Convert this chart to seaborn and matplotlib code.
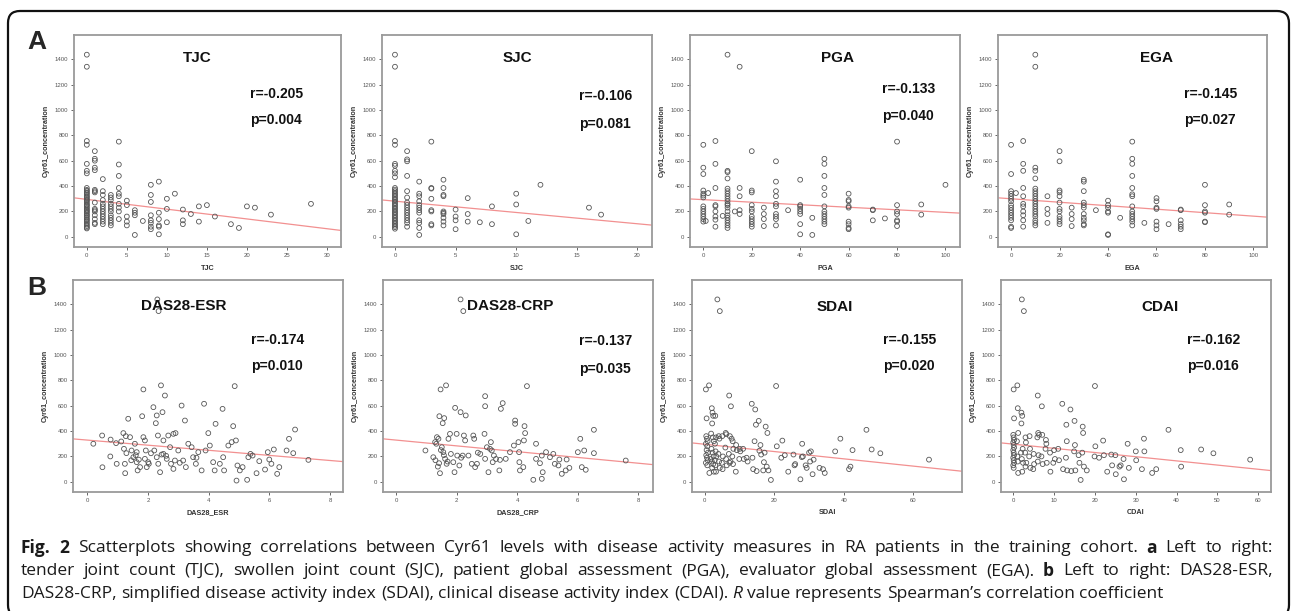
import numpy as np
import pandas as pd
import matplotlib
matplotlib.use("Agg")
import matplotlib.pyplot as plt
import seaborn as sns
from matplotlib.patches import FancyBboxPatch
from matplotlib.transforms import IdentityTransform

# ---------------- data ----------------
y_label = "Cyr61_concentration"

# Panel A: discrete x -> list of Cyr61 values
tjc_cols = {
    0: [1435, 1340, 755, 725, 575, 520, 500, 385, 370, 362, 350, 342, 330, 318, 310, 298, 290, 280,
        268, 255, 248, 236, 225, 214, 205, 196, 185, 172, 165, 152, 140, 131, 120, 108, 96, 85, 74, 66],
    1: [675, 615, 600, 545, 525, 370, 360, 350, 270, 220, 210, 200, 170, 140, 110, 100],
    2: [455, 360, 330, 290, 260, 240, 220, 200, 180, 160, 140, 120, 100],
    3: [330, 310, 290, 260, 240, 220, 200, 170, 150, 130, 110, 90],
    4: [750, 570, 480, 385, 340, 320, 260, 230, 200, 140],
    5: [285, 250, 160, 120, 90],
    6: [210, 190, 170, 15],
    7: [125],
    8: [410, 330, 275, 170, 130, 110, 80, 60],
    9: [435, 190, 140, 90, 80, 20],
    10: [300, 220, 115],
    11: [340],
    12: [215, 130, 100],
    13: [180],
    14: [240, 120],
    15: [250],
    16: [160],
    18: [100],
    19: [70],
    20: [240],
    21: [230],
    23: [175],
    28: [260],
}
sjc_cols = {
    0: [1435, 1340, 755, 725, 575, 560, 520, 500, 470, 385, 372, 360, 348, 336, 325, 312, 300, 290, 278,
        266, 254, 243, 230, 220, 208, 196, 185, 172, 160, 148, 136, 124, 112, 100, 88, 76, 64],
    1: [675, 610, 595, 480, 360, 310, 270, 250, 230, 210, 190, 170, 150, 130, 110, 80],
    2: [435, 340, 320, 280, 250, 230, 210, 190, 130, 110, 70, 15],
    3: [750, 385, 380, 300, 210, 200, 100, 90],
    4: [450, 385, 330, 320, 200, 190, 180, 150, 120, 90],
    5: [215, 160, 130, 60],
    6: [305, 180, 120],
    7: [115],
    8: [240, 100],
    10: [340, 255, 20],
    11: [125],
    12: [410],
    16: [230],
    17: [175],
}
pga_cols = {
    0: [725, 545, 495, 365, 340, 325, 310, 240, 220, 200, 180, 160, 140, 120],
    1: [125],
    2: [345],
    5: [755, 575, 385, 250, 240, 200, 160, 135, 80],
    8: [165],
    10: [1435, 520, 510, 460, 380, 360, 340, 320, 300, 280, 260, 250, 230, 200, 170, 150, 130, 110, 90, 70],
    13: [200],
    15: [1340, 385, 320, 210, 180],
    20: [675, 365, 350, 250, 220, 200, 160, 140, 120, 100, 80],
    25: [230, 180, 140, 85],
    30: [595, 435, 360, 320, 260, 240, 180, 160, 140, 90],
    35: [210],
    40: [450, 250, 240, 220, 200, 180, 100, 20],
    45: [150, 15],
    50: [615, 575, 480, 385, 330, 240, 200, 180, 160, 140, 120, 100],
    60: [340, 290, 280, 240, 230, 120, 100, 70, 60],
    70: [215, 210, 130],
    75: [145],
    80: [750, 250, 200, 180, 130, 120, 85],
    90: [255, 175],
    100: [410],
}
ega_cols = {
    0: [725, 495, 360, 340, 320, 300, 280, 250, 230, 210, 190, 170, 150, 130, 80, 70],
    2: [345],
    5: [755, 575, 520, 385, 320, 260, 240, 200, 170, 130, 80],
    10: [1435, 1340, 545, 520, 460, 380, 360, 340, 320, 300, 280, 260, 240, 220, 200, 180, 160, 130, 110, 90],
    15: [320, 220, 180, 110],
    20: [675, 595, 365, 350, 320, 270, 220, 200, 160, 140, 120, 100],
    25: [230, 180, 140, 85],
    30: [450, 435, 360, 270, 250, 230, 180, 150, 130, 100, 90],
    35: [210],
    40: [285, 250, 230, 200, 190, 20, 15],
    45: [150],
    50: [750, 615, 575, 480, 385, 335, 320, 240, 200, 180, 160, 140, 120, 90],
    55: [110],
    60: [305, 280, 230, 220, 120, 90, 60],
    65: [100],
    70: [215, 210, 130, 100, 80, 60],
    80: [410, 250, 200, 190, 120, 115],
    90: [255, 175],
}

# Panel B: continuous x
das_esr_x = [2.31, 2.35, 0.2, 0.5, 0.49, 0.77, 0.76, 0.97, 0.95, 1.12, 1.19, 1.27, 1.35, 1.21, 1.29, 1.41, 1.24,
             1.25, 1.46, 1.52, 1.63, 1.57, 1.63, 1.66, 1.74, 1.81, 1.85, 1.85, 1.9, 1.93, 1.9, 1.96, 2.01, 2.03,
             2.18, 2.29, 2.26, 2.33, 2.21, 2.29, 2.34, 2.4, 2.43, 2.48, 2.56, 2.51, 2.51, 2.62, 2.67, 2.73, 2.76,
             2.84, 2.91, 2.89, 2.84, 3.0, 3.11, 3.22, 3.16, 3.25, 3.33, 3.44, 3.49, 3.58, 3.66, 3.77, 3.85, 3.9,
             3.99, 4.04, 4.15, 4.23, 4.2, 4.37, 4.46, 4.48, 4.51, 4.65, 4.76, 4.81, 4.86, 4.9, 4.95, 4.92, 5.03,
             5.12, 5.27, 5.31, 5.38, 5.45, 5.58, 5.67, 5.86, 5.95, 6.0, 6.07, 6.15, 6.26, 6.33, 6.57, 6.65, 6.79,
             6.85, 7.29, 1.6, 1.7, 2.1, 2.6, 3.05, 3.6, 1.45, 2.45]
das_esr_y = [1437, 1345, 300, 115, 365, 333, 200, 142, 305, 318, 384, 360, 497, 260, 226, 352, 142,
             68, 247, 194, 155, 300, 234, 90, 116, 517, 728, 352, 326, 247, 181, 116, 155, 142,
             588, 523, 462, 365, 247, 194, 142, 76, 760, 549, 680, 326, 220, 181, 365, 273, 142,
             378, 384, 168, 102, 247, 601, 483, 168, 116, 300, 273, 194, 142, 234, 90, 615, 247,
             384, 286, 155, 457, 90, 142, 575, 194, 90, 286, 313, 439, 754, 326, 129, 10, 90,
             116, 16, 194, 220, 207, 68, 163, 97, 234, 176, 142, 255, 63, 116, 247, 339, 226,
             412, 173, 210, 175, 225, 205, 150, 190, 170, 215]

das_crp_x = [2.13, 2.22, 0.97, 1.23, 1.29, 1.35, 1.4, 1.42, 1.45, 1.47, 1.65, 1.43, 1.59, 1.54, 1.51, 1.56, 1.62,
             1.67, 1.73, 1.78, 1.81, 1.89, 1.93, 1.95, 2.0, 2.02, 2.09, 2.13, 2.3, 2.24, 2.28, 2.2, 2.39, 2.5,
             2.55, 2.58, 2.61, 2.67, 2.78, 2.92, 2.94, 2.94, 2.94, 3.0, 3.05, 3.13, 3.16, 3.19, 3.23, 3.41, 3.43,
             3.46, 3.52, 3.62, 3.76, 3.89, 3.93, 3.93, 4.04, 4.06, 4.07, 4.09, 4.2, 4.22, 4.24, 4.26, 4.32, 4.53,
             4.62, 4.62, 4.75, 4.81, 4.81, 4.84, 4.95, 5.08, 5.19, 5.24, 5.36, 5.39, 5.47, 5.6, 5.63, 5.72, 6.0,
             6.08, 6.13, 6.21, 6.26, 6.53, 6.53, 7.58, 1.3, 1.38, 1.48, 1.58, 1.7, 2.15, 2.7, 3.1, 3.3, 1.33]
das_crp_y = [1437, 1345, 247, 194, 313, 352, 339, 147, 68, 728, 760, 517, 502, 462, 273, 234, 181,
             142, 339, 378, 220, 155, 76, 583, 378, 207, 129, 549, 523, 365, 326, 207, 207, 142,
             365, 339, 116, 142, 220, 378, 675, 596, 181, 273, 76, 313, 247, 155, 207, 90, 173,
             575, 620, 181, 234, 286, 457, 483, 313, 234, 155, 90, 116, 326, 439, 384, 754, 16,
             300, 181, 147, 24, 207, 76, 234, 194, 220, 142, 129, 176, 63, 90, 176, 110, 234,
             339, 116, 247, 95, 410, 226, 168, 170, 120, 250, 210, 160, 190, 230, 260, 180, 300]

sdai_x = [3.6, 4.3, 0.3, 0.5, 0.4, 0.6, 0.8, 0.3, 0.7, 0.5, 0.9, 0.4, 0.6, 0.8, 0.3, 0.7,
          1.2, 1.3, 2.0, 2.2, 2.4, 2.1, 1.8, 2.3, 2.6, 1.9, 2.2, 2.5, 1.7, 2.0, 2.4, 2.1, 2.6,
          3.0, 3.2, 2.9, 3.1, 3.3, 2.8, 3.0, 3.2, 4.0, 4.2, 3.9, 4.1, 4.3, 5.0, 5.2, 4.9, 5.1,
          6.0, 6.2, 5.9, 6.1, 6.3, 7.0, 7.2, 6.9, 7.1, 7.5, 7.7, 7.4, 8.0, 8.2, 7.9, 8.1,
          9.0, 9.2, 8.9, 10.0, 10.2, 9.9, 11.0, 11.2, 12.0, 12.3, 13.5, 13.7, 13.9, 14.5, 14.7,
          14.3, 14.9, 15.5, 15.7, 16.0, 16.2, 17.0, 17.2, 16.8, 17.5, 17.8, 18.0, 18.3, 19.0,
          20.5, 20.7, 22.0, 22.3, 23.0, 24.0, 25.5, 25.8, 26.0, 27.5, 28.0, 28.2, 27.9, 29.0,
          29.3, 30.0, 30.3, 30.5, 31.0, 31.3, 33.0, 34.0, 34.5, 37.5, 39.0, 41.5, 41.9, 42.5,
          46.5, 48.0, 50.5, 64.5]
sdai_y = [1437, 1345, 728, 500, 360, 340, 320, 300, 280, 250, 230, 210, 190, 170, 150, 130,
          760, 70, 580, 545, 520, 460, 380, 350, 320, 260, 230, 200, 180, 160, 140, 110, 80,
          520, 350, 300, 240, 200, 170, 130, 80, 360, 340, 220, 160, 110, 360, 200, 150, 100,
          385, 375, 270, 180, 130, 680, 360, 220, 150, 595, 340, 160, 320, 260, 200, 140,
          290, 250, 80, 260, 240, 180, 260, 180, 190, 160, 615, 190, 100, 570, 450,
          320, 85, 480, 245, 290, 215, 155, 230, 90, 435, 120, 385, 90, 15,
          755, 280, 190, 325, 210, 80, 215, 130, 140, 20, 300, 200, 195, 130,
          110, 230, 160, 240, 60, 175, 110, 100, 70, 240, 340, 100, 120, 250,
          410, 255, 225, 175]

cdai_x = [2.1, 2.6, 0.1, 0.2, 0.0, 0.1, 0.2, 0.0, 0.1, 0.2, 0.0, 0.1, 0.2, 0.0, 0.1, 0.2, 0.0, 0.1,
          1.0, 1.1, 1.2, 0.9, 1.0, 1.1, 1.2, 2.0, 2.2, 2.0, 2.3, 1.9, 2.1, 2.4, 2.2,
          3.0, 3.1, 2.9, 3.2, 3.0, 4.0, 4.1, 3.9, 4.2, 5.0, 5.1, 4.9,
          6.0, 6.1, 6.3, 5.9, 6.2, 6.0, 7.0, 7.1, 6.9, 7.2, 8.0, 8.1, 7.9, 8.2, 9.0, 9.1,
          10.0, 10.2, 9.8, 11.0, 11.2, 12.0, 12.2, 13.0, 13.1, 12.9, 13.2, 14.0, 14.2,
          15.0, 15.1, 14.9, 15.2, 16.0, 16.2, 16.5, 17.0, 17.1, 16.9, 17.3, 18.0,
          20.0, 20.1, 19.9, 21.0, 22.0, 22.2, 23.0, 24.0, 24.2, 25.0, 25.1, 26.0, 26.3,
          27.0, 27.1, 28.0, 28.3, 30.0, 30.1, 31.5, 32.0, 32.1, 34.0, 35.0, 38.0, 41.0, 41.1,
          46.0, 49.0, 58.0]
cdai_y = [1437, 1345, 728, 500, 370, 350, 330, 310, 290, 270, 250, 230, 210, 190, 170, 150, 130, 110,
          760, 580, 385, 320, 200, 160, 70, 545, 520, 460, 260, 230, 180, 150, 80,
          350, 310, 230, 150, 120, 360, 260, 200, 110, 220, 140, 100,
          680, 385, 370, 350, 210, 160, 595, 370, 200, 140, 330, 300, 260, 150, 230, 80,
          250, 180, 150, 260, 170, 615, 100, 450, 320, 190, 90, 570, 85,
          480, 290, 240, 90, 210, 150, 15, 435, 385, 230, 120, 90,
          755, 280, 200, 190, 325, 210, 80, 215, 130, 210, 60, 120, 130,
          180, 20, 300, 110, 240, 170, 100, 340, 240, 70, 100, 410, 250, 120,
          255, 225, 175]

# Spearman statistics shown in the panels
names = ["TJC", "SJC", "PGA", "EGA", "DAS28-ESR", "DAS28-CRP", "SDAI", "CDAI"]
x_labels = ["TJC", "SJC", "PGA", "EGA", "DAS28_ESR", "DAS28_CRP", "SDAI", "CDAI"]
r_values = ["-0.205", "-0.106", "-0.133", "-0.145", "-0.174", "-0.137", "-0.155", "-0.162"]
p_values = ["0.004", "0.081", "0.040", "0.027", "0.010", "0.035", "0.020", "0.016"]
# fit line (intercept, slope)
fit_intercepts = [295, 281, 293, 300, 329, 329, 296, 297]
fit_slopes = [-7.7, -8.9, -1.0, -1.37, -20.1, -22.8, -2.87, -3.3]
x_ticks = [[0, 5, 10, 15, 20, 25, 30], [0, 5, 10, 15, 20], [0, 20, 40, 60, 80, 100],
           [0, 20, 40, 60, 80, 100], [0, 2, 4, 6, 8], [0, 2, 4, 6, 8], [0, 20, 40, 60],
           [0, 10, 20, 30, 40, 50, 60]]
y_ticks = [0, 200, 400, 600, 800, 1000, 1200, 1400]
# caption: (text, weight, style) runs per line
caption_lines = [
    [("Fig. 2", "bold", "normal"),
     ("Scatterplots showing correlations between Cyr61 levels with disease activity measures in RA patients in the training cohort.", "normal", "normal"),
     ("a", "bold", "normal"), ("Left to right:", "normal", "normal")],
    [("tender joint count (TJC), swollen joint count (SJC), patient global assessment (PGA), evaluator global assessment (EGA).", "normal", "normal"),
     ("b", "bold", "normal"), ("Left to right: DAS28-ESR,", "normal", "normal")],
    [("DAS28-CRP, simplified disease activity index (SDAI), clinical disease activity index (CDAI).", "normal", "normal"),
     ("R", "normal", "italic"), ("value represents Spearman\u2019s correlation coefficient", "normal", "normal")],
]


def cols_to_df(cols):
    xs, ys = [], []
    for k, vals in cols.items():
        xs += [k] * len(vals)
        ys += vals
    return pd.DataFrame({"x": xs, "y": ys})


frames = [cols_to_df(tjc_cols), cols_to_df(sjc_cols), cols_to_df(pga_cols), cols_to_df(ega_cols),
          pd.DataFrame({"x": das_esr_x, "y": das_esr_y}), pd.DataFrame({"x": das_crp_x, "y": das_crp_y}),
          pd.DataFrame({"x": sdai_x, "y": sdai_y}), pd.DataFrame({"x": cdai_x, "y": cdai_y})]

# ---------------- layout ----------------
sns.set_theme(style="white")
plt.rcParams['font.family'] = ['Liberation Sans', 'DejaVu Sans']
W, H = 1292, 611
fig = plt.figure(figsize=(W / 100, H / 100), dpi=100)
fig.patch.set_facecolor("white")

# pixel boxes (left, top, right, bottom)
boxes = [(74, 35, 341, 247), (382, 35, 652, 247), (690, 35, 960, 247), (998, 35, 1267, 247),
         (73, 280, 343, 492), (383, 280, 653, 492), (692, 280, 962, 492), (1001, 280, 1271, 492)]
xlims = [(-1.6, 31.75), (-1.07, 21.2), (-5.5, 106), (-5.4, 105.6),
         (-0.47, 8.43), (-0.43, 8.48), (-3.7, 74), (-3.0, 63.1)]
title_pos = [(0.46, 0.89), (0.50, 0.89), (0.545, 0.89), (0.59, 0.89),
             (0.41, 0.875), (0.47, 0.877), (0.53, 0.873), (0.59, 0.873)]
r_pos = [(0.66, 0.72, 0.60), (0.73, 0.71, 0.58), (0.71, 0.745, 0.62), (0.69, 0.72, 0.60),
         (0.66, 0.717, 0.596), (0.726, 0.71, 0.58), (0.706, 0.717, 0.596), (0.688, 0.717, 0.596)]

for i, (l, t, r, b) in enumerate(boxes):
    ax = fig.add_axes([l / W, (H - b) / H, (r - l) / W, (b - t) / H])
    df = frames[i]
    sns.scatterplot(data=df, x="x", y="y", ax=ax, marker="o", s=12, facecolor="none",
                    edgecolor="#555555", linewidth=0.6, legend=False, zorder=3)
    ax.axline((0, fit_intercepts[i]), slope=fit_slopes[i], color="#f29090", lw=0.9, zorder=2)
    ax.set_xlim(*xlims[i])
    ax.set_ylim(-80, 1590)
    ax.set_xticks(x_ticks[i])
    ax.set_yticks(y_ticks)
    ax.tick_params(axis="both", which="both", direction="out", length=2.5, width=0.7, color="#666666",
                   labelsize=4.3, labelcolor="#555555", pad=1.5, left=True, bottom=True)
    for sp in ax.spines.values():
        sp.set_color("#9a9a9a")
        sp.set_linewidth(1.3)
    ax.set_xlabel(x_labels[i], fontsize=5.2, fontweight="bold", color="#333333", labelpad=5)
    ax.set_ylabel(y_label, fontsize=5.2, fontweight="bold", color="#333333", labelpad=3.5)
    tx, ty = title_pos[i]
    ax.text(tx, ty, names[i], transform=ax.transAxes, ha="center", va="center",
            fontsize=11, fontweight="bold", color="#111111")
    rx, ry, py = r_pos[i]
    ax.text(rx, ry, "r=" + r_values[i], transform=ax.transAxes, ha="left", va="center",
            fontsize=10, fontweight="bold", color="#111111")
    ax.text(rx, py, "p=" + p_values[i], transform=ax.transAxes, ha="left", va="center",
            fontsize=10, fontweight="bold", color="#111111")

# panel letters
fig.text(37 / W, (H - 42) / H, "A", fontsize=19, fontweight="bold", ha="center", va="center")
fig.text(37 / W, (H - 288) / H, "B", fontsize=19, fontweight="bold", ha="center", va="center")

# outer rounded frame (pixel coordinates)
frame = FancyBboxPatch((8, -6), 1281, 606, boxstyle="round,pad=0,rounding_size=12",
                       transform=IdentityTransform(), facecolor="none", edgecolor="#111111",
                       linewidth=1.6, figure=fig)
fig.patches.append(frame)

# caption: lines 1-2 justified to the box width, last line natural
renderer = fig.canvas.get_renderer()
cap_family = ['Open Sans', 'Liberation Sans', 'DejaVu Sans']


def tw(txt, size, weight="normal", style="normal"):
    t = fig.text(0, 0, txt, fontsize=size, fontweight=weight, fontstyle=style, family=cap_family)
    w = t.get_window_extent(renderer).width
    t.remove()
    return w


def tokens(line):
    out = []
    for s, wt, st in line:
        for word in s.split(" "):
            out.append((word, wt, st))
    return out


x_left, x_right = 21.0, 1273.0
base = 11.0
toks1 = tokens(caption_lines[0])
sp_base = tw("a a", base) - tw("aa", base)
nat1 = sum(tw(w, base, wt, st) for w, wt, st in toks1) + sp_base * (len(toks1) - 1)
cap_size = min(max(base * (x_right - x_left) / nat1, 9.0), 12.5)
space = tw("a a", cap_size) - tw("aa", cap_size)

line_y = [548, 571, 594]
for li, (line, yy) in enumerate(zip(caption_lines, line_y)):
    toks = tokens(line)
    widths = [tw(w, cap_size, wt, st) for w, wt, st in toks]
    if li < 2:
        gap = (x_right - x_left - sum(widths)) / (len(toks) - 1)
    else:
        gap = space
    x = x_left
    for (w, wt, st), ww in zip(toks, widths):
        fig.text(x / W, (H - yy) / H, w, fontsize=cap_size, fontweight=wt, fontstyle=st,
                 family=cap_family, va="center", ha="left", color="#1a1a1a")
        x += ww + gap

fig.savefig("out.png", dpi=100, facecolor="white")
